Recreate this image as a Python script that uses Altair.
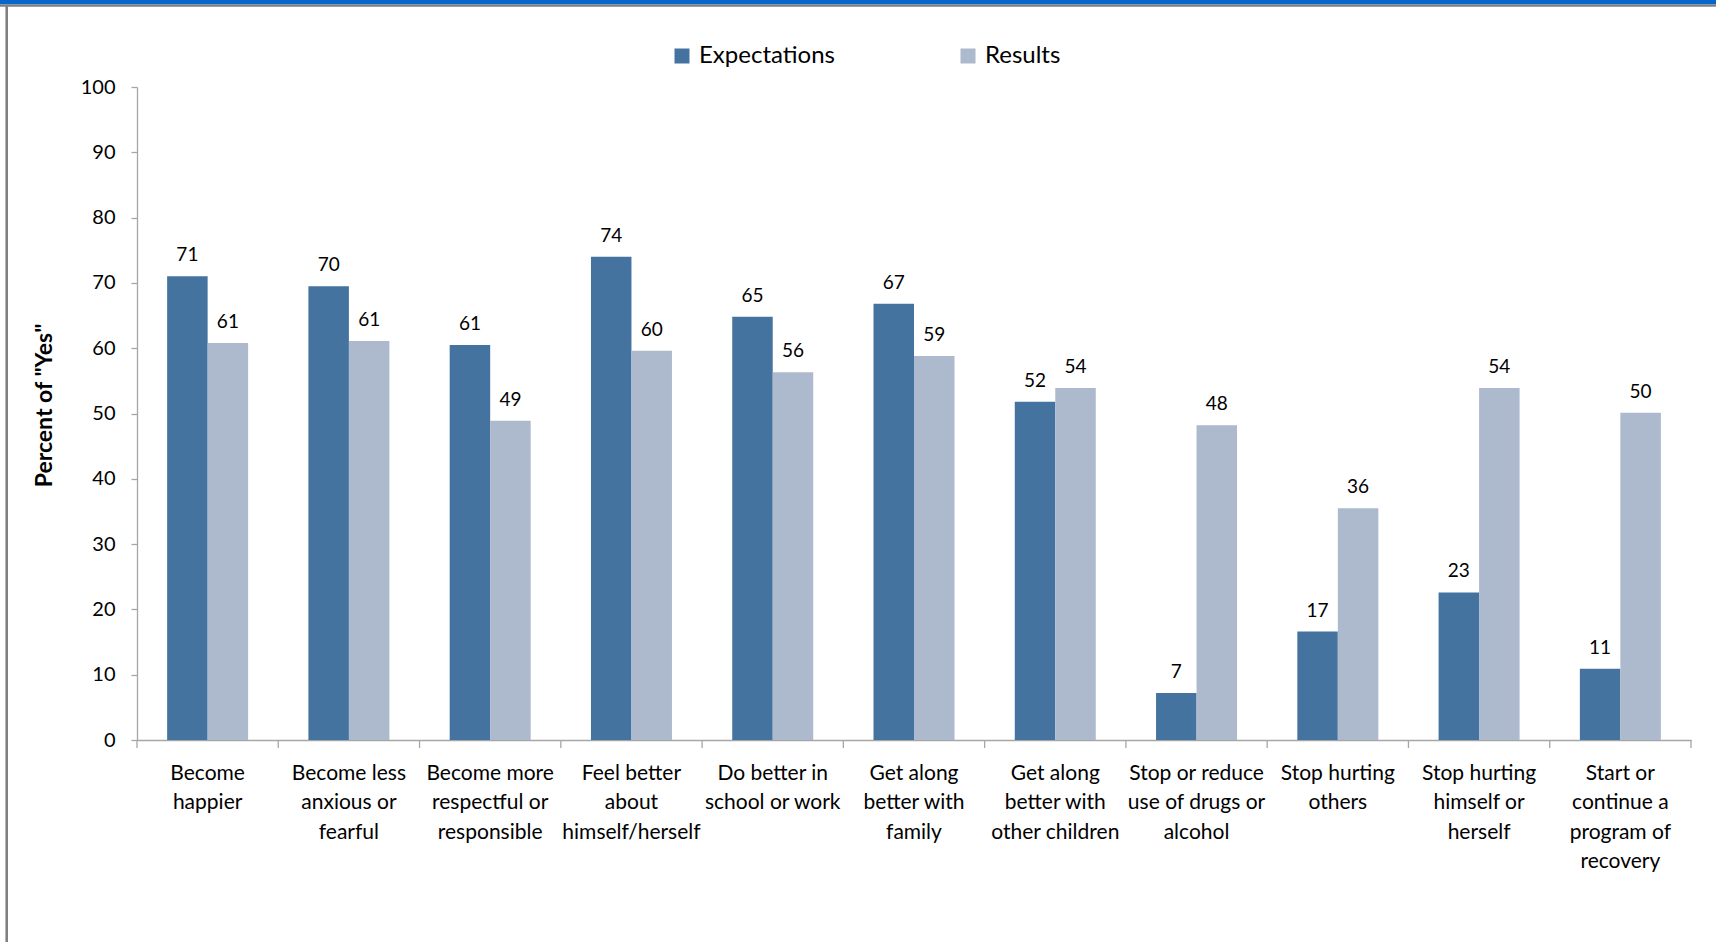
import altair as alt
import pandas as pd

categories = [
    "Become|happier",
    "Become less|anxious or|fearful",
    "Become more|respectful or|responsible",
    "Feel better|about|himself/herself",
    "Do better in|school or work",
    "Get along|better with|family",
    "Get along|better with|other children",
    "Stop or reduce|use of drugs or|alcohol",
    "Stop hurting|others",
    "Stop hurting|himself or|herself",
    "Start or|continue a|program of|recovery",
]
series = ["Expectations", "Results"]
expectations = [71.0, 69.5, 60.5, 74.0, 64.8, 66.8, 51.8, 7.2, 16.6, 22.6, 10.9]
results = [60.8, 61.1, 48.9, 59.6, 56.3, 58.8, 53.9, 48.2, 35.5, 53.9, 50.1]
exp_labels = ["71", "70", "61", "74", "65", "67", "52", "7", "17", "23", "11"]
res_labels = ["61", "61", "49", "60", "56", "59", "54", "48", "36", "54", "50"]
y_ticks = list(range(0, 101, 10))
colors = ["#44739F", "#ADB9CC"]

rows = []
for c, e, r, el, rl in zip(categories, expectations, results, exp_labels, res_labels):
    rows.append({"cat": c, "series": "Expectations", "value": e, "label": el})
    rows.append({"cat": c, "series": "Results", "value": r, "label": rl})
df = pd.DataFrame(rows)

W, H = 1554, 653
PL, PT, PR, PB = 137, 87, 25, 202
FONT = "Lato"
AXIS_GRAY = "#A6A6A6"

xscale = alt.Scale(domain=categories, paddingInner=0, paddingOuter=0)
xoff = alt.XOffset("series:N", sort=series,
                   scale=alt.Scale(domain=series, paddingOuter=0.744, paddingInner=0))
yenc = alt.Y("value:Q", scale=alt.Scale(domain=[0, 100], nice=False),
             axis=alt.Axis(values=y_ticks, grid=False, tickSize=6, tickColor=AXIS_GRAY,
                           domainColor=AXIS_GRAY, domainWidth=1.3, tickWidth=1.3,
                           labelFontSize=20, labelPadding=16, labelColor="#000000",
                           title='Percent of "Yes"', titleFontSize=23, titleFontWeight="bold",
                           titleColor="#000000", titlePadding=24, titleY=318))

bars = alt.Chart(df).mark_bar(size=40.5).encode(
    x=alt.X("cat:N", scale=xscale, sort=categories,
            axis=alt.Axis(title=None, ticks=False, domainColor=AXIS_GRAY, domainWidth=1.3,
                          labelAngle=0, labelFontSize=21, labelColor="#000000",
                          labelPadding=22, labelBaseline="top", labelLineHeight=29.5,
                          labelLimit=300,
                          labelExpr="split(datum.value, '|')")),
    xOffset=xoff,
    y=yenc,
    color=alt.Color("series:N", sort=series,
                    scale=alt.Scale(domain=series, range=colors),
                    legend=alt.Legend(title=None, orient="none", direction="horizontal",
                                      legendX=533, legendY=-43, symbolType="square",
                                      symbolSize=225, symbolStrokeWidth=0,
                                      labelFontSize=24, labelOffset=5, labelColor="#000000",
                                      columnPadding=121, padding=0)),
)

labels = alt.Chart(df).mark_text(baseline="alphabetic", dy=-15, fontSize=19,
                                 color="#000000", font=FONT).encode(
    x=alt.X("cat:N", scale=xscale, sort=categories),
    xOffset=xoff,
    y=alt.Y("value:Q"),
    text="label:N",
)

tick_df = pd.DataFrame({"cat": categories})
ticks = alt.Chart(tick_df).mark_rule(color=AXIS_GRAY, strokeWidth=1.3).encode(
    x=alt.X("cat:N", scale=xscale, sort=categories, bandPosition=0),
    y=alt.value(H), y2=alt.value(H + 8),
)
last_tick = alt.Chart(tick_df.tail(1)).mark_rule(color=AXIS_GRAY, strokeWidth=1.3).encode(
    x=alt.X("cat:N", scale=xscale, sort=categories, bandPosition=1),
    y=alt.value(H), y2=alt.value(H + 8),
)

one = pd.DataFrame({"k": [1]})
top_blue = alt.Chart(one).mark_rule(color="#0766CC", strokeWidth=4.5).encode(
    x=alt.value(-PL), x2=alt.value(W + PR), y=alt.value(-PT + 2.25))
top_gray = alt.Chart(one).mark_rule(color="#808080", strokeWidth=2.2).encode(
    x=alt.value(-PL), x2=alt.value(W + PR), y=alt.value(-PT + 5.6))
left_gray = alt.Chart(one).mark_rule(color="#808080", strokeWidth=2.6).encode(
    x=alt.value(-PL + 6.7), y=alt.value(-PT + 5), y2=alt.value(H + PB))

chart = alt.layer(bars, labels, ticks, last_tick, top_blue, top_gray, left_gray).properties(
    width=W, height=H,
    autosize=alt.AutoSizeParams(type="none"),
    padding={"left": PL, "top": PT, "right": PR, "bottom": PB},
).configure(font=FONT).configure_view(stroke=None)

chart.save("out.html", embed_options={"renderer": "svg", "actions": False})
